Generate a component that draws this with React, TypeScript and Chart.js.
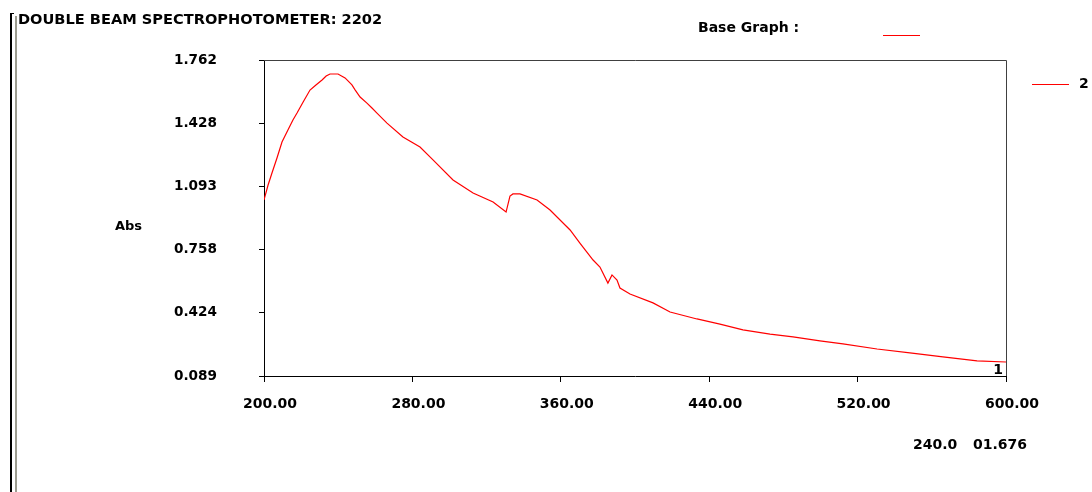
import React, { useEffect, useRef } from "react";
import { Chart, registerables } from "chart.js";

Chart.register(...registerables);

// Wavelength (nm) and absorbance of scan 1
const wavelengths = [
  200, 202.2, 204.3, 207.0, 209.7, 212.9, 215.6, 217.8, 221.1, 224.8, 228.0, 231.3,
  233.5, 235.6, 239.9, 243.7, 247.4, 249.1, 251.8, 255.5, 258.2, 260.9, 266.3,
  274.9, 284.1, 291.1, 301.9, 312.7, 323.5, 330.5, 332.6, 334.2, 338.0, 347.2,
  354.2, 365.0, 370.3, 377.4, 381.1, 385.4, 387.6, 390.3, 391.9, 397.3, 409.7,
  418.9, 433.4, 445.8, 458.2, 472.8, 485.2, 499.7, 512.1, 530.5, 548.2, 566.0,
  584.4, 600,
];
const absorbance = [
  1.021, 1.100, 1.164, 1.243, 1.328, 1.391, 1.444, 1.481, 1.540, 1.603, 1.630, 1.656,
  1.677, 1.688, 1.688, 1.667, 1.630, 1.604, 1.566, 1.534, 1.508, 1.481, 1.428,
  1.354, 1.301, 1.233, 1.127, 1.058, 1.010, 0.957, 1.042, 1.053, 1.053, 1.021,
  0.968, 0.862, 0.793, 0.703, 0.666, 0.581, 0.624, 0.597, 0.555, 0.523, 0.476,
  0.428, 0.391, 0.364, 0.333, 0.311, 0.296, 0.275, 0.259, 0.232, 0.211, 0.190,
  0.169, 0.163,
];

const xTicks = [200, 280, 360, 440, 520, 600];
const xTickLabels = ["200.00", "280.00", "360.00", "440.00", "520.00", "600.00"];
const yTicks = [0.089, 0.424, 0.758, 1.093, 1.428, 1.762];
const yTickLabels = ["0.089", "0.424", "0.758", "1.093", "1.428", "1.762"];

const titleText = "DOUBLE BEAM SPECTROPHOTOMETER: 2202";
const baseGraphText = "Base Graph :";
const yAxisTitle = "Abs";
const seriesLabel = "2";
const curveMarker = "1";
const readoutWavelength = "240.0";
const readoutAbs = "01.676";

const RED = "#ff0000";
const FONT = "DejaVu Sans";

const decorPlugin = {
  id: "decor",
  afterDraw(chart: any) {
    const ctx = chart.ctx as CanvasRenderingContext2D;
    const a = chart.chartArea;
    ctx.save();
    // top & right frame of the plot
    ctx.strokeStyle = "#404040";
    ctx.lineWidth = 1;
    ctx.beginPath();
    ctx.moveTo(a.left, a.top + 0.5);
    ctx.lineTo(a.right + 0.5, a.top + 0.5);
    ctx.lineTo(a.right + 0.5, a.bottom);
    ctx.stroke();

    // left window borders
    ctx.fillStyle = "#000";
    ctx.fillRect(10, 13, 2, 479);
    ctx.fillRect(10, 13, 4, 1);
    ctx.fillStyle = "#9c9c90";
    ctx.fillRect(15, 16, 2, 476);

    // legend lines
    ctx.fillStyle = RED;
    ctx.fillRect(883, 35, 37, 1);
    ctx.fillRect(1032, 84, 37, 1);

    ctx.fillStyle = "#000";
    ctx.textBaseline = "middle";
    ctx.textAlign = "left";
    ctx.font = `bold 14.6px "${FONT}"`;
    ctx.fillText(titleText, 18, 20);
    ctx.font = `bold 14px "${FONT}"`;
    ctx.fillText(baseGraphText, 698, 28);
    ctx.font = `bold 13px "${FONT}"`;
    ctx.fillText(yAxisTitle, 115, 227);

    ctx.font = `bold 14px "${FONT}"`;
    ctx.fillText(chart.data.datasets[0].label, 1079, 84);

    // curve marker
    ctx.textAlign = "right";
    ctx.fillText(curveMarker, a.right - 3, a.bottom - 6);

    // readout
    ctx.textAlign = "left";
    ctx.fillText(readoutWavelength, 913, 445);
    ctx.fillText(readoutAbs, 973, 445);
    ctx.restore();
  },
};

export default function App() {
  const ref = useRef<HTMLCanvasElement | null>(null);
  useEffect(() => {
    if (!ref.current) return;
    const points = wavelengths.map((x, i) => ({ x, y: absorbance[i] }));
    const chart = new Chart(ref.current, {
      type: "line",
      data: {
        datasets: [
          {
            label: seriesLabel,
            data: points,
            borderColor: RED,
            backgroundColor: RED,
            borderWidth: 1.2,
            pointRadius: 0,
            tension: 0,
            fill: false,
          },
        ],
      },
      options: {
        animation: false,
        responsive: false,
        devicePixelRatio: 1,
        layout: { padding: { left: 100, top: 60, right: 86, bottom: 0 } },
        plugins: {
          legend: { display: false },
          title: { display: false },
          tooltip: { enabled: false },
        },
        scales: {
          x: {
            type: "linear",
            min: 200,
            max: 600,
            afterBuildTicks: (s: any) => {
              s.ticks = xTicks.map((v) => ({ value: v }));
            },
            afterFit: (s: any) => {
              s.height = 116;
            },
            ticks: {
              font: { family: FONT, size: 14, weight: "bold" },
              color: "#000",
              padding: 14,
              labelOffset: 6,
              maxRotation: 0,
              autoSkip: false,
              callback: (v: any) => xTickLabels[xTicks.indexOf(Number(v))] ?? "",
            },
            grid: {
              drawOnChartArea: false,
              drawTicks: true,
              tickLength: 6,
              color: "#000",
            },
            border: { color: "#000", width: 1 },
          },
          y: {
            type: "linear",
            min: 0.089,
            max: 1.762,
            afterBuildTicks: (s: any) => {
              s.ticks = yTicks.map((v) => ({ value: v }));
            },
            afterFit: (s: any) => {
              s.width = 164;
            },
            ticks: {
              font: { family: FONT, size: 13.6, weight: "bold" },
              color: "#000",
              padding: 42,
              autoSkip: false,
              callback: (v: any) => yTickLabels[yTicks.indexOf(Number(v))] ?? "",
            },
            grid: {
              drawOnChartArea: false,
              drawTicks: true,
              tickLength: 5,
              color: "#000",
            },
            border: { color: "#000", width: 1 },
          },
        },
      },
      plugins: [decorPlugin],
    });
    return () => chart.destroy();
  }, []);

  return (
    <div style={{ position: "fixed", left: 0, top: 0, width: 1092, height: 492, background: "#fff" }}>
      <canvas ref={ref} width={1092} height={492} style={{ display: "block", width: 1092, height: 492 }} />
    </div>
  );
}
